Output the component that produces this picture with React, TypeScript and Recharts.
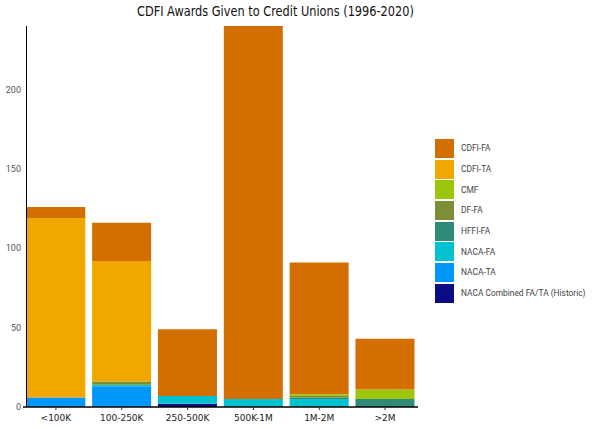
import React from "react";
import { BarChart, Bar, XAxis, YAxis } from "recharts";

const CATEGORIES = ["<100K", "100-250K", "250-500K", "500K-1M", "1M-2M", ">2M"];

// award counts per asset-size bucket, one array per program
const NACA_COMBINED = [0, 0, 2, 0, 0, 0];
const NACA_TA = [6, 13, 0, 0, 0, 0];
const NACA_FA = [0, 1, 5, 5, 5, 0];
const HFFI_FA = [0, 0, 0, 0, 1, 5];
const DF_FA = [0, 2, 0, 0, 1, 0];
const CMF = [0, 0, 0, 0, 1, 6];
const CDFI_TA = [113, 76, 0, 0, 0, 0];
const CDFI_FA = [7, 24, 42, 235, 83, 32];

const Y_TICKS = [0, 50, 100, 150, 200];

// bottom of the stack first
const SERIES = [
  { key: "NACA Combined FA/TA (Historic)", values: NACA_COMBINED, color: "#0b0b85" },
  { key: "NACA-TA", values: NACA_TA, color: "#0096fa" },
  { key: "NACA-FA", values: NACA_FA, color: "#00c2d1" },
  { key: "HFFI-FA", values: HFFI_FA, color: "#2f8b78" },
  { key: "DF-FA", values: DF_FA, color: "#7c8e36" },
  { key: "CMF", values: CMF, color: "#9cc60c" },
  { key: "CDFI-TA", values: CDFI_TA, color: "#f0a800" },
  { key: "CDFI-FA", values: CDFI_FA, color: "#d26f00" },
];

const chartData = CATEGORIES.map((cat, i) => {
  const row: Record<string, string | number> = { bucket: cat };
  for (const s of SERIES) row[s.key] = s.values[i];
  return row;
});

function LegendBox() {
  const items = [...SERIES].reverse();
  return (
    <div style={{ position: "absolute", left: 435, top: 138 }}>
      {items.map((s) => (
        <div
          key={s.key}
          style={{ display: "flex", alignItems: "center", height: 20.7 }}
        >
          <div
            style={{
              width: 19,
              height: 19,
              background: s.color,
              marginRight: 7,
              flexShrink: 0,
            }}
          />
          <span
            style={{
              fontFamily: "Roboto, sans-serif",
              fontSize: 8.4,
              color: "#444",
              whiteSpace: "nowrap",
            }}
          >
            {s.key}
          </span>
        </div>
      ))}
    </div>
  );
}

export default function App() {
  return (
    <div
      style={{
        position: "fixed",
        left: 0,
        top: 0,
        width: 600,
        height: 429,
        background: "#fff",
      }}
    >
      <div
        style={{
          position: "absolute",
          left: 137,
          top: 3,
          whiteSpace: "nowrap",
          fontFamily: "'DejaVu Sans', sans-serif",
          fontSize: 14,
          color: "#111",
          transform: "scaleX(0.81)",
          transformOrigin: "left top",
        }}
      >
        CDFI Awards Given to Credit Unions (1996-2020)
      </div>
      <BarChart
        width={600}
        height={429}
        data={chartData}
        margin={{ top: 26, right: 182, left: 0, bottom: 0 }}
        barCategoryGap={3.3}
      >
        <XAxis
          dataKey="bucket"
          height={22}
          interval={0}
          axisLine={{ stroke: "#000", strokeWidth: 1.5 }}
          tickLine={{ stroke: "#333" }}
          tickSize={3}
          tickMargin={5}
          tick={{ fontSize: 9, fill: "#222", fontFamily: "'DejaVu Sans', sans-serif" }}
        />
        <YAxis
          width={23}
          domain={[0, 240]}
          ticks={Y_TICKS}
          axisLine={false}
          tickLine={false}
          tickSize={0}
          tickMargin={2}
          tick={{ fontSize: 9, fill: "#555", fontFamily: "Roboto, sans-serif" }}
        />
        {SERIES.map((s) => (
          <Bar
            key={s.key}
            dataKey={s.key}
            stackId="awards"
            fill={s.color}
            isAnimationActive={false}
          />
        ))}
      </BarChart>
      {/* vertical axis rule, sits flush with the first bar */}
      <div
        style={{
          position: "absolute",
          left: 25.5,
          top: 26,
          width: 1.5,
          height: 381,
          background: "#000",
        }}
      />
      <LegendBox />
    </div>
  );
}
